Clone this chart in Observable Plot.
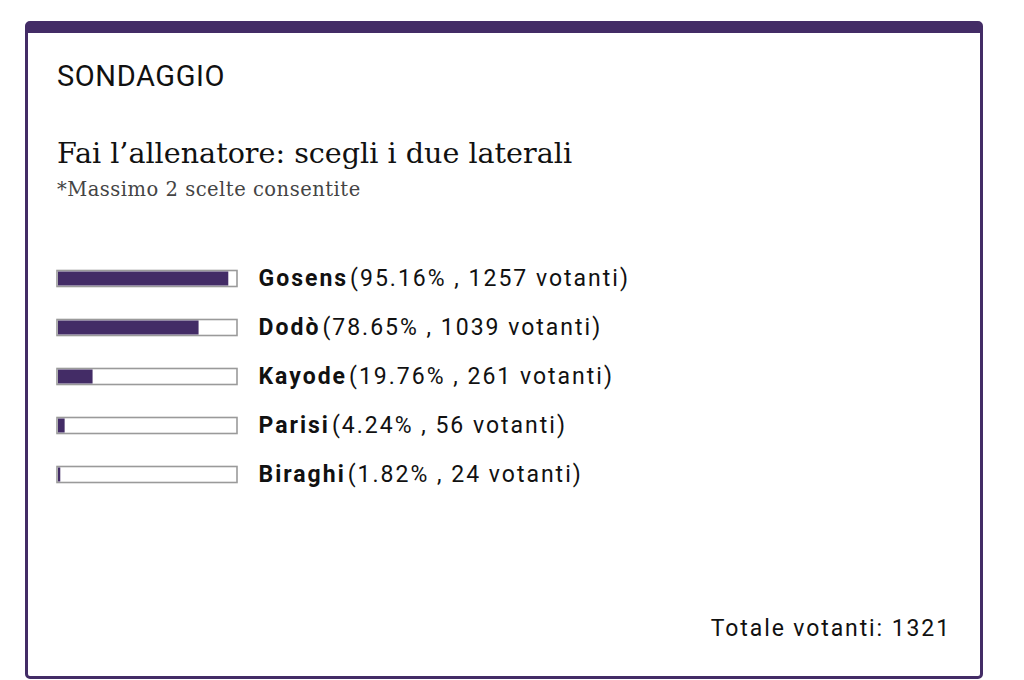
<!DOCTYPE html>
<html>
<head>
<meta charset="utf-8">
<script src="https://cdn.jsdelivr.net/npm/d3@7"></script>
<script src="https://cdn.jsdelivr.net/npm/@observablehq/plot@0.6"></script>
<style>
  html, body { margin: 0; padding: 0; background: #fff; }
  #root { position: relative; width: 1024px; height: 680px; overflow: hidden; }
  #card {
    position: absolute; left: 25px; top: 21px; width: 952px; height: 643px;
    border: 3px solid #432c66; border-top-width: 12px; border-radius: 5px;
    background: #fff;
  }
  .kicker { position: absolute; left: 57px; top: 62px; line-height: 1; font-family: Roboto, sans-serif; font-size: 29px; color: #111; letter-spacing: 0.6px; }
  .title { position: absolute; left: 57px; top: 139px; line-height: 1; font-family: "DejaVu Serif", serif; font-size: 28.6px; color: #111; white-space: nowrap; }
  .subtitle { position: absolute; left: 57px; top: 180px; line-height: 1; font-family: "DejaVu Serif", serif; font-size: 19.5px; letter-spacing: 0.5px; color: #444; white-space: nowrap; }
  .total { position: absolute; right: 73px; top: 617px; line-height: 1; font-family: Roboto, sans-serif; font-size: 23px; letter-spacing: 1.9px; color: #111; }
  #chart { position: absolute; left: 0; top: 240px; }
</style>
</head>
<body>
<div id="root">
  <div id="card"></div>
  <div class="kicker">SONDAGGIO</div>
  <div class="title">Fai l’allenatore: scegli i due laterali</div>
  <div class="subtitle">*Massimo 2 scelte consentite</div>
  <div id="chart"></div>
  <div class="total" id="total"></div>
</div>
<script>
const names = ["Gosens", "Dodò", "Kayode", "Parisi", "Biraghi"];
const percents = [95.16, 78.65, 19.76, 4.24, 1.82];
const votes = [1257, 1039, 261, 56, 24];
const totalVotes = 1321;

const data = names.map((n, i) => ({name: n, pct: percents[i], votes: votes[i]}));
const purple = "#432c66";

const plot = Plot.plot({
  width: 1024,
  height: 270,
  margin: 0,
  style: {fontFamily: "Roboto, sans-serif", fontSize: "23px", color: "#111", background: "transparent", letterSpacing: "2px"},
  x: {domain: [0, 100], range: [57, 237], axis: null},
  y: {type: "band", domain: names, range: [13.5, 260], padding: 0, axis: null},
  marks: [
    Plot.barX(data, {x1: 0, x2: 100, y: "name", fill: "#fff", stroke: "#9a9a9a", strokeWidth: 1.6, insetTop: 16.5, insetBottom: 16.5}),
    Plot.barX(data, {x1: 0, x2: "pct", y: "name", fill: purple, insetTop: 17.5, insetBottom: 17.5, insetLeft: 1, insetRight: 0}),
    Plot.text(data, {x: () => 100, y: "name", text: "name", dx: 21, textAnchor: "start", fontWeight: "bold", fill: "#111", className: "poll-labels"})
  ]
});
d3.select(plot).selectAll(".poll-labels text").each(function(_, i) {
  const d = data[i];
  d3.select(this).append("tspan").attr("font-weight", "normal").attr("dx", 2)
    .text(`(${d.pct.toFixed(2)}% , ${d.votes} votanti)`);
});
document.getElementById("chart").appendChild(plot);
document.getElementById("total").textContent = `Totale votanti: ${totalVotes}`;
</script>
</body>
</html>
